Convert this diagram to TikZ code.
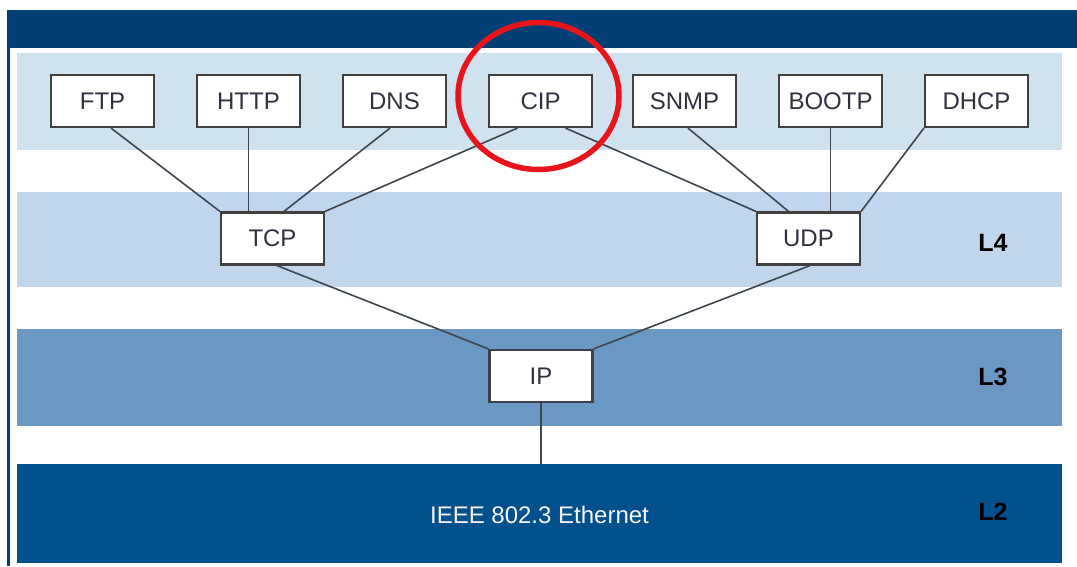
\documentclass[tikz,border=0pt]{standalone}
\usepackage{fontspec}
\setmainfont{Liberation Sans}
\usetikzlibrary{shapes.geometric}
\definecolor{topbar}{HTML}{023F75}
\definecolor{appband}{HTML}{D0E2EE}
\definecolor{lfour}{HTML}{C1D5EC}
\definecolor{lthree}{HTML}{6B97C3}
\definecolor{ltwo}{HTML}{02508C}
\definecolor{boxline}{HTML}{404040}
\definecolor{boxtext}{HTML}{303040}
\definecolor{wire}{HTML}{3E4650}
\definecolor{ring}{HTML}{E8141B}
\begin{document}
\begin{tikzpicture}[x=1pt,y=-1pt,
  proto/.style={draw=boxline,line width=2.2pt,fill=white,minimum width=103pt,minimum height=52pt,inner sep=0,text=boxtext,font=\fontsize{24}{27}\selectfont},
  layer/.style={font=\bfseries\fontsize{25}{28}\selectfont,text=black},
  link/.style={draw=wire,line width=1.6pt}]
\useasboundingbox (0,0) rectangle (1077,566);
\fill[white] (0,0) rectangle (1077,566);
% frame
\fill[topbar] (7,10) rectangle (1077,48);
\fill[topbar] (7,10) rectangle (10,566);
% bands
\fill[appband] (17,53) rectangle (1062,150);
\fill[lfour] (17,192) rectangle (1062,287);
\fill[lthree] (17,329) rectangle (1062,426);
\fill[ltwo] (17,464) rectangle (1062,563);
\coordinate (l2top) at (541,464);
\node[text=white!92!gray,font=\fontsize{24}{27}\selectfont] (eth) at (539.5,515) {IEEE 802.3 Ethernet};
% layer labels
\node[layer] (L4) at (993,243) {L4};
\node[layer] (L3) at (993,377) {L3};
\node[layer] (L2) at (993,512) {L2};
% protocol boxes
\node[proto] (FTP) at (102.5,101) {FTP};
\node[proto] (HTTP) at (248.5,101) {HTTP};
\node[proto] (DNS) at (394.5,101) {DNS};
\node[proto] (CIP) at (540.5,101) {CIP};
\node[proto] (SNMP) at (684.5,101) {SNMP};
\node[proto] (BOOTP) at (830.5,101) {BOOTP};
\node[proto] (DHCP) at (976.5,101) {DHCP};
\node[proto] (TCP) at (272.5,238.5) {TCP};
\node[proto] (UDP) at (808.5,238.5) {UDP};
\node[proto] (IP) at (541,376) {IP};
% connectors
\draw[link] ([xshift=8.5pt]FTP.south) -- (TCP.north west);
\draw[link] (HTTP.south) -- (HTTP.south |- TCP.north);
\draw[link] ([xshift=-4.5pt]DNS.south) -- ([xshift=11.5pt]TCP.north);
\draw[link] ([xshift=-23pt]CIP.south) -- (TCP.north east);
\draw[link] ([xshift=25pt]CIP.south) -- (UDP.north west);
\draw[link] ([xshift=3.5pt]SNMP.south) -- ([xshift=-20pt]UDP.north);
\draw[link] (BOOTP.south) -- (BOOTP.south |- UDP.north);
\draw[link] (DHCP.south west) -- (UDP.north east);
\draw[link] ([xshift=4.5pt]TCP.south) -- (IP.north west);
\draw[link] ([xshift=1.5pt]UDP.south) -- (IP.north east);
\draw[link] (IP.south) -- (IP.south |- l2top);
% highlight ring
\node[ellipse,draw=ring,line width=5.5pt,minimum width=161pt,minimum height=147pt,inner sep=0] (ring) at (538.5,96) {};
\end{tikzpicture}
\end{document}
